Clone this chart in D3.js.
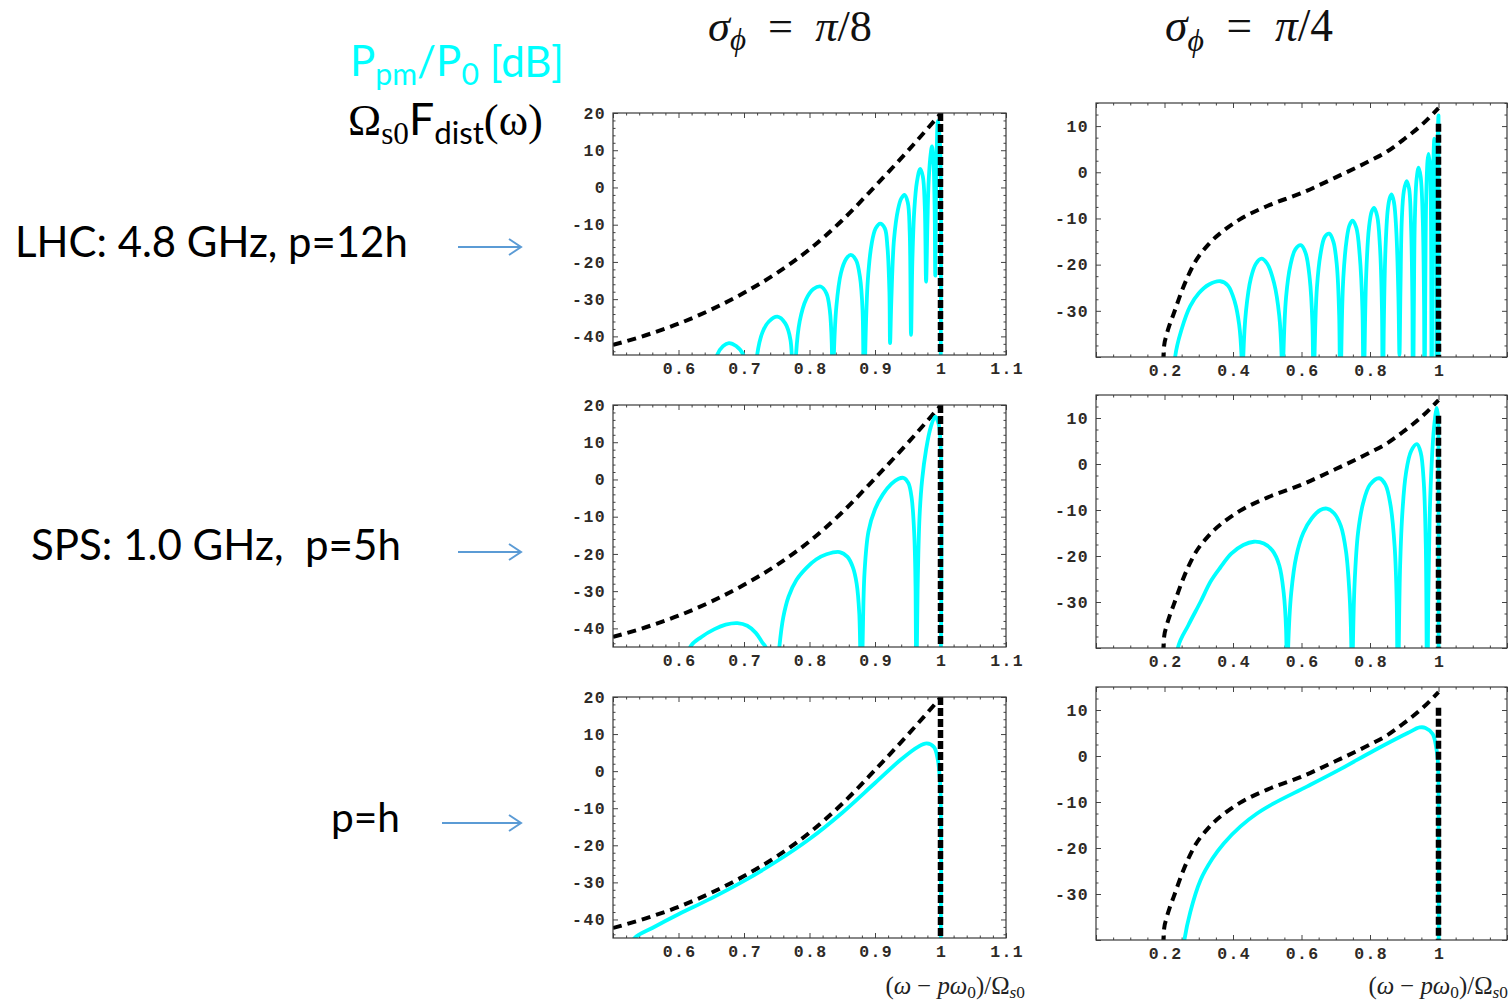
<!DOCTYPE html>
<html><head><meta charset="utf-8">
<script src="https://cdn.jsdelivr.net/npm/d3@7"></script>
<style>body{margin:0;background:#fff}svg{display:block}</style>
</head><body>
<svg id="chart" width="1510" height="1001"></svg>
<script>
// ---------------- data ----------------
// dashed envelope  Ω_s0 F_dist(ω)  [x, dB]
const envelopePi8 = [[0.5,-42.3],[0.55,-39.7],[0.6,-36.6],[0.65,-32.8],[0.7,-28.3],[0.75,-23],[0.8,-16.6],[0.85,-8.8],[0.9,0.3],[0.95,9.8],[1.0,19.8]];
const envelopePi4 = [[0.196,-41],[0.199,-37.5],[0.205,-35.5],[0.215,-33],[0.226,-30.8],[0.25,-25.8],[0.285,-20],[0.33,-15.5],[0.38,-12.2],[0.42,-10.2],[0.5,-7.3],[0.6,-4.5],[0.7,-1.1],[0.8,2.5],[0.85,4.5],[0.9,7.2],[0.95,10.2],[1.0,13.9]];

// cyan  P_pm/P_0 [dB]
const lhcPi8 = [[0.640,-70],[0.659,-45],[0.668,-42.6],[0.677,-41.8],[0.688,-42.6],[0.699,-45],[0.710,-70],
  [0.720,-45],[0.728,-39],[0.738,-36],[0.751,-34.7],[0.763,-36.5],[0.771,-41],[0.776,-70],
  [0.779,-46],[0.785,-36],[0.795,-30],[0.806,-27.3],[0.817,-26.6],[0.826,-28.5],[0.831,-33],[0.834,-42],[0.835,-70],
  [0.837,-46],[0.841,-32],[0.848,-23],[0.856,-19.2],[0.863,-18.1],[0.871,-19.5],[0.877,-24],[0.881,-33],[0.883,-70],
  [0.885,-45],[0.889,-25],[0.895,-15],[0.901,-11],[0.908,-9.7],[0.915,-11],[0.919,-16],[0.922,-28],[0.923,-41.8],
  [0.925,-30],[0.929,-14],[0.935,-6],[0.940,-3],[0.945,-2],[0.950,-4],[0.953,-12],[0.955,-39.6],
  [0.957,-20],[0.960,-6],[0.964,1.5],[0.969,5],[0.973,3],[0.976,-5],[0.978,-25.3],
  [0.980,-10],[0.982,2],[0.985,9],[0.987,11],[0.989,8],[0.991,-5],[0.992,-23.7],
  [0.993,-5],[0.994,8],[0.996,17.8],[0.998,15],[1.0,8],[1.0,-60]];
const lhcPi4 = [[0.222,-60],[0.231,-40],[0.25,-34],[0.275,-29],[0.30,-26.2],[0.33,-24.3],[0.363,-23.6],[0.385,-24.5],[0.405,-28],[0.418,-33],[0.425,-40],[0.427,-60],
  [0.430,-40],[0.438,-30],[0.452,-23],[0.467,-19.8],[0.483,-18.7],[0.500,-19.8],[0.520,-24],[0.535,-31],[0.542,-40],[0.544,-60],
  [0.547,-40],[0.555,-27],[0.568,-20],[0.582,-16.7],[0.598,-15.8],[0.612,-17.5],[0.624,-23],[0.632,-33],[0.635,-60],
  [0.638,-40],[0.645,-25],[0.656,-17.5],[0.668,-14],[0.681,-13.3],[0.693,-15],[0.703,-20],[0.710,-31],[0.713,-60],
  [0.716,-40],[0.722,-23],[0.732,-14.5],[0.740,-11.5],[0.749,-10.5],[0.760,-12],[0.770,-18],[0.778,-30],[0.781,-60],
  [0.784,-40],[0.789,-22],[0.797,-12],[0.805,-8.5],[0.812,-7.7],[0.821,-9.5],[0.829,-16],[0.835,-30],[0.837,-60],
  [0.840,-35],[0.845,-17],[0.852,-8],[0.858,-5.5],[0.863,-4.8],[0.870,-6.5],[0.877,-13],[0.883,-27],[0.886,-39.6],
  [0.889,-25],[0.893,-10],[0.899,-4],[0.907,-1.9],[0.914,-3.5],[0.920,-12],[0.924,-30],[0.925,-60],
  [0.928,-30],[0.931,-10],[0.936,-1.5],[0.942,1.0],[0.948,-1],[0.954,-10],[0.958,-30],[0.959,-60],
  [0.961,-30],[0.964,-6],[0.968,2.5],[0.971,4],[0.975,1.5],[0.978,-10],[0.980,-60],
  [0.982,-20],[0.985,2],[0.988,7.3],[0.991,4],[0.993,-10],[0.994,-40],
  [0.996,-5],[0.998,8],[1.0,12.3],[1.0,-60]];
const spsPi8 = [[0.605,-60],[0.618,-45],[0.635,-42.3],[0.655,-40.2],[0.672,-39],[0.690,-38.6],[0.705,-39.3],[0.718,-41.2],[0.728,-43.8],[0.733,-45],[0.742,-60],
  [0.748,-60],[0.754,-45],[0.760,-37],[0.768,-31.5],[0.780,-27],[0.795,-23.8],[0.810,-21.5],[0.826,-20.1],[0.846,-19.5],[0.858,-20.8],[0.866,-23.5],[0.872,-28],[0.876,-36],[0.879,-60],
  [0.881,-45],[0.884,-25],[0.890,-14],[0.900,-8],[0.912,-4],[0.925,-1.2],[0.936,0.2],[0.944,0.4],[0.951,-1],[0.956,-5],[0.960,-15],[0.962,-30],[0.963,-60],
  [0.965,-30],[0.968,-10],[0.972,0],[0.978,8],[0.985,14],[0.992,16.9],[0.997,15],[1.0,10],[1.0,-60]];
const spsPi4 = [[0.232,-60],[0.239,-40],[0.27,-35],[0.305,-30],[0.335,-25.5],[0.363,-22.5],[0.395,-19.5],[0.43,-17.6],[0.461,-16.9],[0.49,-17.3],[0.515,-18.8],[0.535,-22],[0.548,-28],[0.555,-36],[0.558,-60],
  [0.561,-40],[0.57,-28],[0.585,-20],[0.605,-15],[0.630,-11.8],[0.655,-10],[0.674,-9.7],[0.695,-10.7],[0.715,-13.5],[0.730,-19],[0.740,-28],[0.745,-38],[0.747,-60],
  [0.750,-40],[0.755,-26],[0.765,-15],[0.78,-8.5],[0.80,-4.5],[0.827,-3.1],[0.845,-4.5],[0.860,-9],[0.872,-18],[0.878,-30],[0.881,-60],
  [0.884,-40],[0.888,-22],[0.895,-10],[0.905,-2],[0.920,2.8],[0.937,4.3],[0.948,2.5],[0.957,-4],[0.963,-18],[0.967,-60],
  [0.970,-30],[0.974,-12],[0.980,0],[0.987,8],[0.995,12.2],[0.999,10],[1.0,5],[1.0,-60]];
const phPi8 = [[0.525,-48],[0.533,-45],[0.56,-42.3],[0.6,-38.6],[0.65,-34.3],[0.7,-29.6],[0.75,-24.3],[0.8,-18.3],[0.85,-11.2],[0.9,-3.2],[0.94,3.2],[0.965,6.5],[0.979,7.5],[0.99,6.5],[0.996,3],[0.998,0],[1.0,-5],[1.0,-60]];
const phPi4 = [[0.252,-44],[0.258,-40],[0.275,-34],[0.305,-27],[0.34,-22.3],[0.373,-19],[0.422,-15.3],[0.47,-12.5],[0.519,-10.3],[0.617,-6.6],[0.715,-2.8],[0.812,1.2],[0.91,5],[0.945,6.2],[0.962,6.1],[0.983,4.8],[0.993,2],[0.998,-1],[1.0,-6],[1.0,-60]];

// vertical dashed marker at (ω−pω0)/Ωs0 = 1
const markerX = 1.0;
const markerTopPi8 = 20;
const markerTopPi4 = 10.5;

// axis ticks
const xTicksPi8 = [0.6,0.7,0.8,0.9,1,1.1];
const xTicksPi4 = [0.2,0.4,0.6,0.8,1];
const yTicksPi8 = [20,10,0,-10,-20,-30,-40];
const yTicksPi4 = [10,0,-10,-20,-30];

const columnTitles = ["π/8","π/4"];
const rowLabels = ["LHC: 4.8 GHz, p=12h","SPS: 1.0 GHz,  p=5h","p=h"];

// ---------------- layout ----------------
const svg = d3.select("#chart");
const CYAN = "#00ffff";

const columns = [
  {xDomain:[0.5,1.1], yDomain:[-45,20], xMajor:0.1, xMinor:0.02, yMajor:10, yMinor:2,
   xLabels:xTicksPi8, yLabels:yTicksPi8, envelope:envelopePi8, markerTop:markerTopPi8, x0:613, x1:1006},
  {xDomain:[0,1.2], yDomain:[-40,15], xMajor:0.2, xMinor:0.05, yMajor:10, yMinor:2.5,
   xLabels:xTicksPi4, yLabels:yTicksPi4, envelope:envelopePi4, markerTop:markerTopPi4, x0:1096, x1:1507}
];
const panels = [
  {col:0, y0:113, y1:355, data:lhcPi8},
  {col:1, y0:103, y1:357, data:lhcPi4},
  {col:0, y0:405, y1:647, data:spsPi8},
  {col:1, y0:395, y1:648, data:spsPi4},
  {col:0, y0:697, y1:938, data:phPi8},
  {col:1, y0:687, y1:940, data:phPi4}
];

function stepValues(domain, step){
  const start = Math.ceil(domain[0]/step - 1e-9);
  const end = Math.floor(domain[1]/step + 1e-9);
  const out = [];
  for(let i=start;i<=end;i++) out.push(+(i*step).toFixed(6));
  return out;
}

panels.forEach((p,i)=>{
  const c = columns[p.col];
  const w = c.x1-c.x0, h = p.y1-p.y0;
  const x = d3.scaleLinear().domain(c.xDomain).range([0,w]);
  const y = d3.scaleLinear().domain(c.yDomain).range([h,0]);
  const g = svg.append("g").attr("transform",`translate(${c.x0},${p.y0})`);

  const clipId = "clip"+i;
  g.append("clipPath").attr("id",clipId).append("rect").attr("width",w).attr("height",h);

  const xMaj = stepValues(c.xDomain,c.xMajor);
  const xMin = stepValues(c.xDomain,c.xMinor).filter(v=>!xMaj.some(m=>Math.abs(m-v)<1e-6));
  const yMaj = stepValues(c.yDomain,c.yMajor);
  const yMin = stepValues(c.yDomain,c.yMinor).filter(v=>!yMaj.some(m=>Math.abs(m-v)<1e-6));

  const styleAxis = sel => {
    sel.select(".domain").remove();
    sel.selectAll("line").attr("stroke","#444").attr("stroke-width",1);
  };
  g.append("g").attr("transform",`translate(0,${h})`).call(d3.axisBottom(x).tickValues(xMin).tickSize(-2.5).tickFormat("")).call(styleAxis);
  g.append("g").call(d3.axisTop(x).tickValues(xMin).tickSize(-2.5).tickFormat("")).call(styleAxis);
  g.append("g").call(d3.axisLeft(y).tickValues(yMin).tickSize(-2.5).tickFormat("")).call(styleAxis);
  g.append("g").attr("transform",`translate(${w},0)`).call(d3.axisRight(y).tickValues(yMin).tickSize(-2.5).tickFormat("")).call(styleAxis);
  g.append("g").call(d3.axisTop(x).tickValues(xMaj).tickSize(-5).tickFormat("")).call(styleAxis);
  g.append("g").attr("transform",`translate(${w},0)`).call(d3.axisRight(y).tickValues(yMaj).tickSize(-5).tickFormat("")).call(styleAxis);
  g.append("g").attr("transform",`translate(0,${h})`).call(d3.axisBottom(x).tickValues(xMaj).tickSize(-5).tickFormat("")).call(styleAxis);
  g.append("g").call(d3.axisLeft(y).tickValues(yMaj).tickSize(-5).tickFormat("")).call(styleAxis);

  const fmt = d => String(d);
  const xl = g.append("g").attr("transform",`translate(0,${h})`)
    .call(d3.axisBottom(x).tickValues(c.xLabels).tickSize(0).tickPadding(7).tickFormat(fmt));
  xl.select(".domain").remove();
  const yl = g.append("g").call(d3.axisLeft(y).tickValues(c.yLabels).tickSize(0).tickPadding(7).tickFormat(fmt));
  yl.select(".domain").remove();
  [xl,yl].forEach(a=>a.attr("font-family","'Liberation Mono', 'DejaVu Sans Mono', monospace")
      .attr("font-size",16.5).attr("font-weight","bold")
      .selectAll("text").attr("fill","#2e2a26").attr("letter-spacing","1.4px"));
  xl.selectAll("text").attr("dx","0.7px");

  const plot = g.append("g").attr("clip-path",`url(#${clipId})`);
  plot.append("path").datum(c.envelope)
    .attr("d", d3.line().x(d=>x(d[0])).y(d=>y(d[1])).curve(d3.curveMonotoneX))
    .attr("fill","none").attr("stroke","#000").attr("stroke-width",4)
    .attr("stroke-dasharray","9,6");
  plot.append("path").datum(p.data)
    .attr("d", d3.line().x(d=>x(d[0])).y(d=>y(d[1])).curve(d3.curveCatmullRom.alpha(0.5)))
    .attr("fill","none").attr("stroke",CYAN).attr("stroke-width",3.8).attr("stroke-linejoin","round");
  plot.append("path").datum([[markerX,c.markerTop],[markerX,c.yDomain[0]]])
    .attr("d", d3.line().x(d=>x(d[0])).y(d=>y(d[1])))
    .attr("fill","none").attr("stroke","#000").attr("stroke-width",5.5)
    .attr("stroke-dasharray","8,3");

  g.append("rect").attr("width",w).attr("height",h).attr("fill","none")
    .attr("stroke","#3a3a3a").attr("stroke-width",1.2);
});

// ---------------- text ----------------
function fitWidth(text, target){
  const bw = text.node().getBBox().width;
  const fs = parseFloat(text.attr("font-size"));
  text.attr("font-size", fs*target/bw);
}

// column titles σ_ϕ = π/8, π/4
[[790,columnTitles[0],164],[1249,columnTitles[1],168]].forEach(([cx,val,tw])=>{
  const t = svg.append("text").attr("x",cx).attr("y",41).attr("text-anchor","middle")
    .attr("font-family","'Liberation Serif', 'DejaVu Serif', serif").attr("font-size",40).attr("fill","#111")
    .style("white-space","pre");
  t.append("tspan").attr("font-style","italic").text("σ");
  t.append("tspan").attr("font-style","italic").attr("font-size","0.7em").attr("dy","0.3em").text("ϕ");
  t.append("tspan").attr("dy","-0.21em").text("  =  ");
  t.append("tspan").attr("font-style","italic").text(val[0]);
  t.append("tspan").text(val.slice(1));
  fitWidth(t, tw);
});

// legend labels
const t1 = svg.append("text").attr("x",350).attr("y",76).attr("fill",CYAN)
  .attr("font-family","Lato, 'Open Sans', sans-serif").attr("font-size",42);
t1.append("tspan").text("P");
t1.append("tspan").attr("font-size","0.72em").attr("dy","0.3em").text("pm");
t1.append("tspan").attr("dy","-0.21em").text("/P");
t1.append("tspan").attr("font-size","0.72em").attr("dy","0.3em").text("0");
t1.append("tspan").attr("dy","-0.21em").text(" [dB]");
fitWidth(t1, 214);

const t2 = svg.append("text").attr("x",348).attr("y",135).attr("fill","#000").attr("font-size",44);
t2.append("tspan").attr("font-family","'Liberation Serif', serif").text("Ω");
t2.append("tspan").attr("font-family","'Liberation Serif', serif").attr("font-size","0.7em").attr("dy","0.3em").text("s0");
t2.append("tspan").attr("font-family","Lato, sans-serif").attr("dy","-0.21em").text("F");
t2.append("tspan").attr("font-family","Lato, sans-serif").attr("font-size","0.7em").attr("dy","0.3em").text("dist");
t2.append("tspan").attr("font-family","'Liberation Serif', serif").attr("dy","-0.21em").text("(ω)");
fitWidth(t2, 195);

// row labels + arrows
const rows = [
  {label:rowLabels[0], x:15, y:257, w:393, ax0:458, ax1:521, ay:247},
  {label:rowLabels[1], x:31, y:560, w:370, ax0:458, ax1:521, ay:552},
  {label:rowLabels[2], x:331, y:832, w:69, ax0:442, ax1:521, ay:823}
];
rows.forEach(r=>{
  const t = svg.append("text").attr("x",r.x).attr("y",r.y).attr("fill","#000")
    .attr("font-family","Lato, 'Open Sans', sans-serif").attr("font-size",40)
    .style("white-space","pre").text(r.label);
  fitWidth(t, r.w);
  const a = svg.append("g").attr("stroke","#5b9bd5").attr("stroke-width",2).attr("fill","none");
  a.append("line").attr("x1",r.ax0).attr("x2",r.ax1-1).attr("y1",r.ay).attr("y2",r.ay);
  a.append("path").attr("d",`M${r.ax1-12},${r.ay-8} L${r.ax1},${r.ay} L${r.ax1-12},${r.ay+8}`);
});

// x-axis labels (ω − pω0)/Ωs0
[1025,1508].forEach(xe=>{
  const t = svg.append("text").attr("x",xe).attr("y",994).attr("text-anchor","end")
    .attr("font-family","'Liberation Serif', 'DejaVu Serif', serif").attr("font-size",22).attr("fill","#222")
    .style("white-space","pre");
  t.append("tspan").text("(");
  t.append("tspan").attr("font-style","italic").text("ω");
  t.append("tspan").text(" − ");
  t.append("tspan").attr("font-style","italic").text("pω");
  t.append("tspan").attr("font-size","0.7em").attr("dy","0.25em").text("0");
  t.append("tspan").attr("dy","-0.175em").text(")/Ω");
  t.append("tspan").attr("font-size","0.7em").attr("dy","0.25em").attr("font-style","italic").text("s");
  t.append("tspan").attr("font-size","0.7em").text("0");
  fitWidth(t, 140);
});
</script>
</body></html>
